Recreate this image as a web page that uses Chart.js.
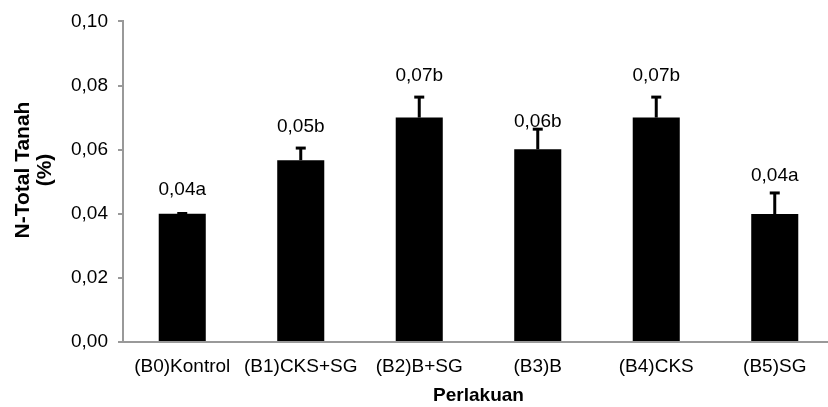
<!DOCTYPE html>
<html>
<head>
  <title>N-Total Tanah</title>
  <script src="https://cdn.jsdelivr.net/npm/chart.js"></script>
  <style>
    html, body { margin: 0; padding: 0; overflow: hidden; background: #fff; }
    #wrap { width: 834px; height: 407px; }
  </style>
</head>
<body>
  <div id="wrap"><canvas id="ntotal-chart"></canvas></div>
  <script>
    var categories = ['(B0)Kontrol', '(B1)CKS+SG', '(B2)B+SG', '(B3)B', '(B4)CKS', '(B5)SG'];
    var means = [0.0400, 0.0567, 0.0700, 0.0601, 0.0700, 0.0399];
    var errorTops = [0.0404, 0.0608, 0.0767, 0.0667, 0.0767, 0.0468];
    var notations = ['0,04a', '0,05b', '0,07b', '0,06b', '0,07b', '0,04a'];
    var notationAt = [0.0474, 0.0670, 0.0829, 0.0688, 0.0829, 0.0517];
    var yTicks = [0, 0.02, 0.04, 0.06, 0.08, 0.10];

    var FONT = '"Liberation Sans", Arial, sans-serif';

    var errorBars = {
      id: 'errorBars',
      afterDatasetsDraw: function(chart) {
        var ctx = chart.ctx;
        var y = chart.scales.y;
        var meta = chart.getDatasetMeta(0);
        ctx.save();
        ctx.strokeStyle = '#000';
        meta.data.forEach(function(bar, i) {
          var top = y.getPixelForValue(errorTops[i]);
          ctx.lineWidth = 3;
          ctx.beginPath();
          ctx.moveTo(bar.x, bar.y);
          ctx.lineTo(bar.x, top);
          ctx.stroke();
          ctx.beginPath();
          ctx.moveTo(bar.x - 5, top + 1);
          ctx.lineTo(bar.x + 5, top + 1);
          ctx.stroke();
        });
        ctx.fillStyle = '#000';
        ctx.font = '19px ' + FONT;
        ctx.textAlign = 'center';
        ctx.textBaseline = 'middle';
        meta.data.forEach(function(bar, i) {
          ctx.fillText(notations[i], bar.x, y.getPixelForValue(notationAt[i]));
        });
        // y axis title, two lines
        ctx.font = 'bold 21px ' + FONT;
        ctx.translate(0, 170);
        ctx.rotate(-Math.PI / 2);
        ctx.fillText('N-Total Tanah', 0, 23);
        ctx.fillText('(%)', 0, 45);
        ctx.restore();
      }
    };

    var ctx = document.getElementById('ntotal-chart').getContext('2d');
    var chart = new Chart(ctx, {
      type: 'bar',
      data: {
        labels: categories,
        datasets: [{
          label: 'N-Total',
          data: means,
          backgroundColor: '#000',
          borderColor: '#000',
          borderWidth: 0,
          categoryPercentage: 1,
          barPercentage: 0.397
        }]
      },
      options: {
        responsive: true,
        maintainAspectRatio: false,
        animation: false,
        devicePixelRatio: 1,
        layout: { padding: { top: 21, left: 0, right: 0, bottom: 0 } },
        plugins: {
          legend: { display: false },
          tooltip: { enabled: false }
        },
        scales: {
          x: {
            offset: true,
            grid: { display: false, drawTicks: false },
            border: { color: '#999', width: 2 },
            ticks: {
              color: '#000', padding: 13, autoSkip: false, maxRotation: 0, minRotation: 0,
              font: { family: FONT, size: 19 }
            },
            title: {
              display: true,
              text: 'Perlakuan',
              color: '#000',
              font: { family: FONT, size: 19, weight: 'bold' },
              padding: { top: 4, bottom: 0 }
            },
            afterFit: function(scale) { scale.height = 65; }
          },
          y: {
            min: 0,
            max: 0.1,
            afterBuildTicks: function(scale) {
              scale.ticks = yTicks.map(function(v) { return { value: v }; });
            },
            grid: { drawOnChartArea: false, drawTicks: true, tickLength: 5, color: '#999', lineWidth: 2 },
            border: { color: '#999', width: 2 },
            ticks: {
              color: '#000',
              padding: 10,
              font: { family: FONT, size: 19 },
              callback: function(v) { return Number(v).toFixed(2).replace('.', ','); }
            },
            afterFit: function(scale) { scale.width = 123; }
          }
        }
      },
      plugins: [errorBars]
    });
  </script>
</body>
</html>
